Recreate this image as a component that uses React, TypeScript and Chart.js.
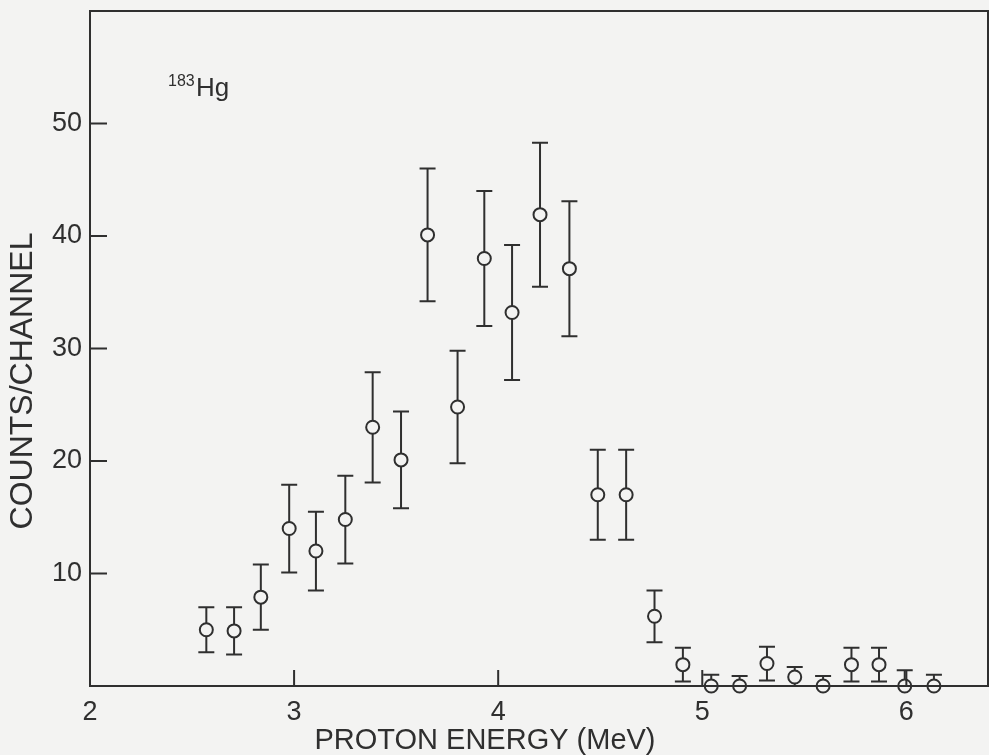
import React, { useEffect, useRef } from "react";
import { Chart, registerables } from "chart.js";

Chart.register(...registerables);

// Proton energy (MeV) of each channel
const energies = [
  2.570, 2.706, 2.837, 2.976, 3.107, 3.251, 3.385, 3.524, 3.654, 3.801,
  3.932, 4.068, 4.205, 4.349, 4.488, 4.627, 4.766, 4.905, 5.044, 5.183,
  5.317, 5.453, 5.592, 5.731, 5.866, 5.992, 6.135,
];
// Counts per channel
const counts = [
  5.0, 4.9, 7.9, 14.0, 12.0, 14.8, 23.0, 20.1, 40.1, 24.8,
  38.0, 33.2, 41.9, 37.1, 17.0, 17.0, 6.2, 1.9, 0, 0,
  2.0, 0.8, 0, 1.9, 1.9, 0, 0,
];
// Statistical error (±)
const errors = [
  2.0, 2.1, 2.9, 3.9, 3.5, 3.9, 4.9, 4.3, 5.9, 5.0,
  6.0, 6.0, 6.4, 6.0, 4.0, 4.0, 2.3, 1.5, 1.0, 0.9,
  1.5, 0.9, 0.9, 1.5, 1.5, 1.4, 1.0,
];

const xTicks = [2, 3, 4, 5, 6];
const yTicks = [10, 20, 30, 40, 50];
const xTitle = "PROTON ENERGY (MeV)";
const yTitle = "COUNTS/CHANNEL";
const isotopeMass = "183";
const isotopeSymbol = "Hg";

const INK = "#2f2f2f";
const BG = "#f3f3f2";
const FONT = "'Liberation Sans', Arial, sans-serif";

const decorPlugin = {
  id: "decor",
  beforeDatasetsDraw(chart: any) {
    const { ctx, chartArea, scales } = chart;
    const xs = scales.x;
    const ys = scales.y;
    ctx.save();
    ctx.beginPath();
    ctx.rect(chartArea.left, chartArea.top, chartArea.right - chartArea.left, chartArea.bottom - chartArea.top);
    ctx.clip();
    ctx.strokeStyle = INK;
    ctx.lineWidth = 2;
    const cap = 8;
    energies.forEach((e, i) => {
      const px = xs.getPixelForValue(e);
      const top = ys.getPixelForValue(counts[i] + errors[i]);
      const bot = ys.getPixelForValue(counts[i] - errors[i]);
      ctx.beginPath();
      ctx.moveTo(px, top);
      ctx.lineTo(px, bot);
      ctx.moveTo(px - cap, top);
      ctx.lineTo(px + cap, top);
      ctx.moveTo(px - cap, bot);
      ctx.lineTo(px + cap, bot);
      ctx.stroke();
    });
    ctx.restore();
  },
  afterDatasetsDraw(chart: any) {
    const { ctx, chartArea, scales } = chart;
    const xs = scales.x;
    const ys = scales.y;
    ctx.save();
    ctx.strokeStyle = INK;
    ctx.lineWidth = 2;
    ctx.strokeRect(chartArea.left, chartArea.top, chartArea.right - chartArea.left, chartArea.bottom - chartArea.top);
    // inward ticks
    ctx.beginPath();
    xTicks.forEach((v) => {
      const px = xs.getPixelForValue(v);
      ctx.moveTo(px, chartArea.bottom);
      ctx.lineTo(px, chartArea.bottom - 16);
    });
    yTicks.forEach((v) => {
      const py = ys.getPixelForValue(v);
      ctx.moveTo(chartArea.left, py);
      ctx.lineTo(chartArea.left + 17, py);
    });
    ctx.stroke();

    ctx.fillStyle = INK;
    // x title
    ctx.font = `29px ${FONT}`;
    ctx.textAlign = "center";
    ctx.textBaseline = "middle";
    ctx.fillText(xTitle, 485, 741);
    // y title
    ctx.save();
    ctx.translate(23, 381);
    ctx.rotate(-Math.PI / 2);
    ctx.font = `32px ${FONT}`;
    ctx.fillText(yTitle, 0, 0);
    ctx.restore();
    // isotope label
    ctx.textAlign = "left";
    ctx.textBaseline = "alphabetic";
    ctx.font = `16px ${FONT}`;
    ctx.fillText(isotopeMass, 168, 86);
    ctx.font = `26px ${FONT}`;
    ctx.fillText(isotopeSymbol, 196, 96);
    ctx.restore();
  },
};

const zeroPadding = (s: any) => {
  s.paddingLeft = 0;
  s.paddingRight = 0;
  s.paddingTop = 0;
  s.paddingBottom = 0;
};

export default function App() {
  const ref = useRef<HTMLCanvasElement>(null);
  useEffect(() => {
    if (!ref.current) return;
    const chart = new Chart(ref.current, {
      type: "scatter",
      data: {
        datasets: [
          {
            data: energies.map((e, i) => ({ x: e, y: counts[i] })),
            pointStyle: "circle",
            pointRadius: 6.5,
            pointBorderWidth: 2,
            pointBorderColor: INK,
            pointBackgroundColor: BG,
            showLine: false,
            clip: false as any,
          },
        ],
      },
      options: {
        animation: false,
        responsive: false,
        devicePixelRatio: 1,
        layout: { autoPadding: false, padding: { top: 11, right: 1, left: 0, bottom: 0 } },
        plugins: { legend: { display: false }, tooltip: { enabled: false } },
        scales: {
          x: {
            type: "linear",
            min: 2,
            max: 6.4,
            afterBuildTicks: (s: any) => {
              s.ticks = xTicks.map((v) => ({ value: v }));
            },
            afterFit: (s: any) => {
              s.height = 69;
              zeroPadding(s);
            },
            grid: { display: false, drawTicks: false },
            border: { display: false },
            ticks: {
              padding: 10,
              color: INK,
              font: { family: FONT, size: 27 },
              callback: (v: any) => String(v),
            },
          },
          y: {
            type: "linear",
            min: 0,
            max: 60,
            afterBuildTicks: (s: any) => {
              s.ticks = yTicks.map((v) => ({ value: v }));
            },
            afterFit: (s: any) => {
              s.width = 90;
              zeroPadding(s);
            },
            grid: { display: false, drawTicks: false },
            border: { display: false },
            ticks: {
              padding: 8,
              color: INK,
              font: { family: FONT, size: 27 },
              callback: (v: any) => String(v),
            },
          },
        },
      },
      plugins: [decorPlugin],
    } as any);
    return () => chart.destroy();
  }, []);
  return (
    <div style={{ position: "absolute", left: 0, top: 0, width: 989, height: 755, background: BG }}>
      <canvas ref={ref} width={989} height={755} style={{ display: "block" }} />
    </div>
  );
}
